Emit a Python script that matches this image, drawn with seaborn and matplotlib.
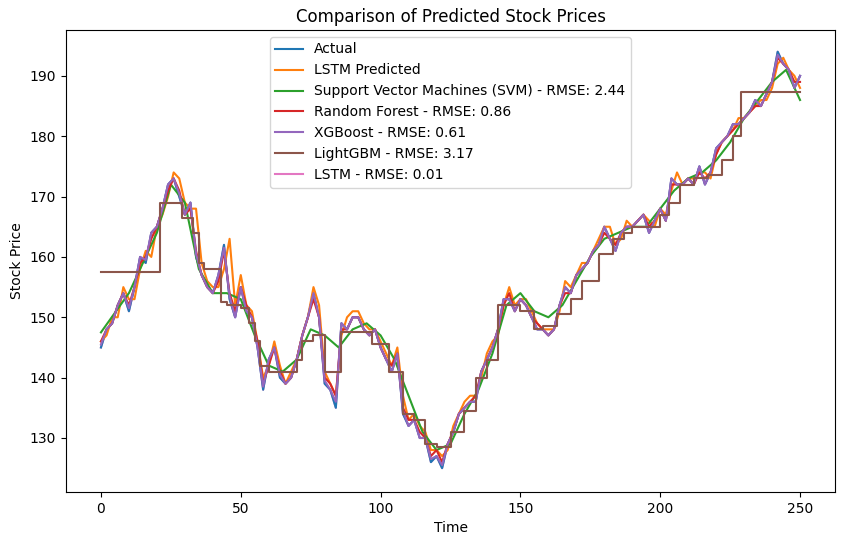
import numpy as np
import pandas as pd
import matplotlib
matplotlib.use("Agg")
import matplotlib.pyplot as plt
import seaborn as sns

actual = [145,148,149,152,154,151,155,160,159,164,165,168,172,173,170,167,169,160,157,155,
154,157,162,153,150,155,151,150,145,138,143,145,140,139,140,143,147,150,154,150,
139,138,135,149,148,150,150,148,147,148,145,143,141,144,134,132,133,130,130,126,
127,125,129,131,134,135,136,136,141,143,145,148,153,153,151,153,152,150,148,148,
147,148,152,155,154,157,158,159,161,162,165,163,161,164,165,165,166,167,164,166,
168,166,173,172,172,173,172,175,172,174,178,179,180,182,182,183,184,186,185,187,
189,194,192,191,188,190]
lstm_pred = [146,147,150,150,155,153,153,158,161,160,165,167,170,174,173,169,168,168,159,156,
155,155,158,163,152,157,152,151,146,140,142,146,142,139,141,143,147,150,155,152,
141,139,137,147,150,151,151,149,148,148,146,144,142,145,137,133,134,132,131,128,
128,127,128,132,134,136,137,137,140,144,146,147,152,155,152,153,153,151,149,148,
148,148,151,156,155,157,159,159,161,163,165,165,162,163,166,165,166,167,166,165,
168,167,171,174,172,173,173,174,174,173,177,179,180,181,183,183,184,185,186,186,
188,192,193,191,190,188]
rf = [146,148,149,152,154,152,155,159,160,163,165,168,171,173,171,167,168,161,157,155,
154,156,161,154,151,155,152,150,146,139,142,145,141,139,140,143,147,150,153,150,
140,139,137,148,148,150,150,148,147,148,145,143,142,144,135,133,133,131,130,127,
128,126,129,131,134,135,136,137,141,143,145,148,152,154,151,153,152,150,149,148,
147,148,152,154,154,157,158,159,161,162,164,163,162,164,165,165,166,167,165,166,
168,166,172,172,172,173,172,174,173,174,177,179,180,181,182,183,184,185,185,187,
189,193,192,191,189,189]
xgb = [145.5,148,149,152,154,151.5,155,160,159.5,164,165,168,172,173,170.5,167,169,160.5,157,155,
154,157,161.5,153.5,150,155,151,150,145,138.5,143,145,140.5,139,140,143,147,150,154,150,
139.5,138,136,149,148,150,150,148,147,148,145,143,141,144,134.5,132,133,130,130,126.5,
127,125.5,129,131,134,135,136,136,141,143,145,148,153,153,151,153,152,150,148,148,
147,148,152,155,154,157,158,159,161,162,165,163,161,164,165,165,166,167,164,166,
168,166,173,172,172,173,172,175,172,174,178,179,180,182,182,183,184,186,185,187,
189,193.5,192,191,188,190]
lstm_rmse = actual

svm_x = [0,10,20,25,30,35,40,45,50,55,60,65,70,75,80,85,90,95,100,105,110,115,120,125,130,
         135,140,145,150,155,160,165,170,175,180,185,190,195,200,205,210,215,220,225,230,235,240,245,250]
svm_y = [147.5,154,164,172,169,158,154,154,153,147,142,141,143,148,147,145,148,149,147,143,137,131,128,129,134,
         138,144,152,154,151,150,152,156,160,163,164,165,165,168,171,173,174,176,179,183,186,189,191,186]

lgb_x = [0,21,29,33,35,37,43,45,50,53,55,57,60,70,72,76,80,86,97,103,108,112,116,120,125,130,134,138,142,150,
         155,158,163,168,172,178,183,187,190,195,200,203,207,212,217,222,226,229,250]
lgb_y = [157.5,169,166.5,164,159,158,152.5,152,151.5,149,146,142,141,143,146,147,141,147.5,145.5,141,134,133,129,128.5,131,
         134.5,140,143,152,151,148,148.5,150.5,153,156,160.5,163,164,165,165,167,169,172,173,173.5,176,180,187.3,187.3]

pal = sns.color_palette("tab10")
fig = plt.figure(figsize=(8.5, 5.45), dpi=100)
ax = fig.add_axes([66/850, 53/545, 769/850, 462/545])

def xs(v):
    return np.arange(0, 2 * len(v), 2)

sns.lineplot(x=xs(lstm_rmse), y=lstm_rmse, ax=ax, color=pal[6], label="LSTM - RMSE: 0.01", zorder=0.5)
sns.lineplot(x=xs(actual), y=actual, ax=ax, color=pal[0], label="Actual")
sns.lineplot(x=xs(lstm_pred), y=lstm_pred, ax=ax, color=pal[1], label="LSTM Predicted")
sns.lineplot(x=svm_x, y=svm_y, ax=ax, color=pal[2], label="Support Vector Machines (SVM) - RMSE: 2.44")
sns.lineplot(x=xs(rf), y=rf, ax=ax, color=pal[3], label="Random Forest - RMSE: 0.86")
sns.lineplot(x=xs(xgb), y=xgb, ax=ax, color=pal[4], label="XGBoost - RMSE: 0.61")
ax.step(lgb_x, lgb_y, where="post", color=pal[5], label="LightGBM - RMSE: 3.17", linewidth=1.5)

h, l = ax.get_legend_handles_labels()
order = [1, 2, 3, 4, 5, 6, 0]
ax.legend([h[i] for i in order], [l[i] for i in order], loc="upper center")
ax.set_xlim(-12.5, 262.5)
ax.set_ylim(121.05, 197.6)
ax.set_title("Comparison of Predicted Stock Prices")
ax.set_xlabel("Time")
ax.set_ylabel("Stock Price")
fig.savefig("out.png")
